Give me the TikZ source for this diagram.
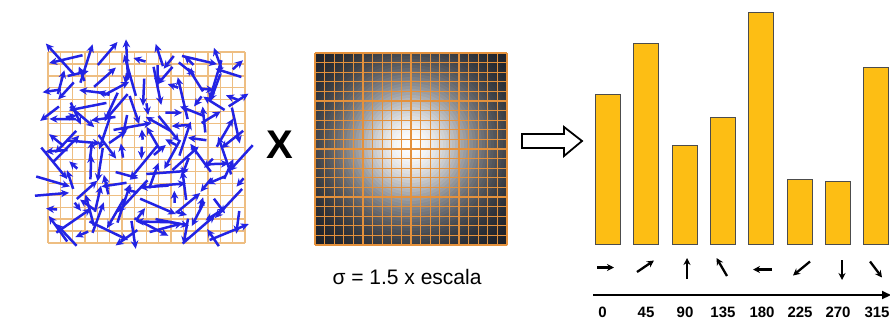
\documentclass[tikz,border=0pt]{standalone}
\usepackage{fontspec}
\setmainfont{Liberation Sans}
\usetikzlibrary{arrows.meta}
\definecolor{vecblue}{RGB}{35,35,228}
\definecolor{gridtan}{RGB}{238,190,130}
\definecolor{gridorange}{RGB}{228,145,60}
\definecolor{baryellow}{RGB}{253,190,20}
\definecolor{gdark}{RGB}{20,24,32}
\tikzset{
  bluevec/.style={draw=vecblue, line width=2.5pt, -{Stealth[length=8pt,width=7.5pt]}},
  dirarrow/.style={draw=black, line width=2.3pt, -{Stealth[length=7pt,width=7pt]}},
  histbar/.style={draw=black!70, line width=0.8pt, fill=baryellow, minimum width=25pt, inner sep=0pt, anchor=south},
  anglabel/.style={font=\fontsize{15}{18}\selectfont\bfseries, inner sep=0pt},
}
\begin{document}
\begin{tikzpicture}[x=1pt,y=-1pt]
\fill[white] (0,0) rectangle (890,325);
\useasboundingbox (0,0) rectangle (890,325);
% left grid
\foreach \k in {0,...,16}{
  \draw[gridtan, line width=1.3pt] ({48+12.3125*\k},52) -- ({48+12.3125*\k},243);
  \draw[gridtan, line width=1.3pt] (48,{52+11.9375*\k}) -- (245,{52+11.9375*\k});
}
% random vectors (jittered placement)
\pgfmathsetseed{37}
\foreach \row in {0,...,11}{
  \foreach \col in {0,...,11}{
    \pgfmathsetmacro\cx{56+16.2*\col+14*(rnd-0.5)}
    \pgfmathsetmacro\cy{60+15.6*\row+14*(rnd-0.5)}
    \pgfmathsetmacro\ang{360*rnd}
    \pgfmathsetmacro\len{10+34*rnd}
    \draw[bluevec] ({\cx-0.5*\len*cos(\ang)},{\cy-0.5*\len*sin(\ang)}) -- ++(\ang:\len);
  }
}
% X
\node (times) at (280,145) {\fontsize{40}{44}\selectfont\bfseries X};
% gaussian window
\node[minimum width=192pt, minimum height=192pt, inner sep=0pt] (gauss) at (411,149) {};
\begin{scope}
  \clip (315,53) rectangle (507,245);
  \fill[gdark] (315,53) rectangle (507,245);
  \foreach \r in {140,137,...,2}{
    \pgfmathsetmacro\w{100*exp(-0.5*(\r/53)*(\r/53))}
    \fill[white!\w!gdark] (411,145) circle[radius=\r];
  }
\end{scope}
\foreach \k in {0,...,20}{
  \draw[gridorange, line width=1.2pt] ({315+9.6*\k},53) -- ({315+9.6*\k},245);
  \draw[gridorange, line width=1.2pt] (315,{53+9.6*\k}) -- (507,{53+9.6*\k});
}
\node (sigma) at (407,277) {\fontsize{21}{25}\selectfont σ = 1.5 x escala};
% hollow arrow
\draw[line width=1.8pt, line join=miter, fill=white] (522,134) -- (564,134) -- (564,127) -- (582,141) -- (564,156) -- (564,148) -- (522,148) -- cycle;
% bars
\node[histbar, minimum height=150pt] (b0) at (607.5,245) {};
\node[histbar, minimum height=201pt] (b45) at (645.5,245) {};
\node[histbar, minimum height=99pt] (b90) at (684.5,245) {};
\node[histbar, minimum height=127pt] (b135) at (723,245) {};
\node[histbar, minimum height=232pt] (b180) at (761,245) {};
\node[histbar, minimum height=65pt] (b225) at (799.5,245) {};
\node[histbar, minimum height=63pt] (b270) at (837.5,245) {};
\node[histbar, minimum height=177pt] (b315) at (875.5,245) {};
% direction arrows
\draw[dirarrow] (597,267.5) -- (614,267.5);
\draw[dirarrow] (637,272) -- (654,260.5);
\draw[dirarrow] (687,279) -- (687,258);
\draw[dirarrow] (727,276) -- (716.5,258);
\draw[dirarrow] (772,269.5) -- (753,269.5);
\draw[dirarrow] (810,261.5) -- (793,275.5);
\draw[dirarrow] (842,260) -- (842,280);
\draw[dirarrow] (870,261.5) -- (882,277.5);
% axis
\coordinate (ax0) at (593,295);
\coordinate (ax1) at (891,295);
\draw[line width=2pt, -{Triangle[length=9pt,width=8pt]}] (ax0) -- (ax1);
\node[anglabel] (l0) at (602.5,312.5) {0};
\node[anglabel] (l45) at (646,312.5) {45};
\node[anglabel] (l90) at (685,312.5) {90};
\node[anglabel] (l135) at (723,312.5) {135};
\node[anglabel] (l180) at (762,312.5) {180};
\node[anglabel] (l225) at (800,312.5) {225};
\node[anglabel] (l270) at (838,312.5) {270};
\node[anglabel] (l315) at (877,312.5) {315};
\end{tikzpicture}
\end{document}
